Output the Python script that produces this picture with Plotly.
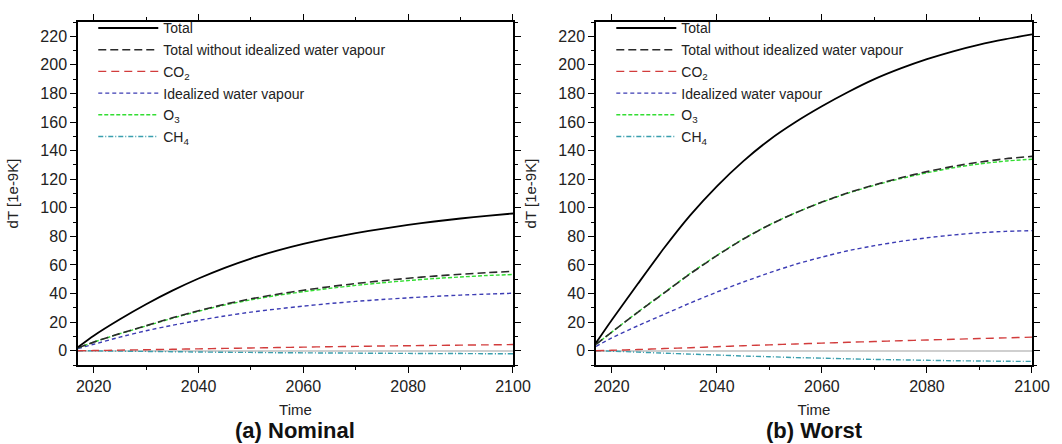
import plotly.graph_objects as go

# ---------------- data ----------------
years = [2017, 2020, 2025, 2030, 2035, 2040, 2045, 2050, 2055, 2060,
         2065, 2070, 2075, 2080, 2085, 2090, 2095, 2100]

# (a) Nominal
nom_total = [2.5, 10.5, 22.0, 32.5, 42.0, 50.5, 58.0, 64.5, 70.0, 74.7,
             78.8, 82.3, 85.3, 88.0, 90.4, 92.5, 94.4, 96.0]
nom_total_no_wv = [2.0, 6.0, 12.0, 17.5, 23.0, 28.0, 32.5, 36.3, 39.5, 42.3,
                   44.8, 47.0, 49.0, 50.7, 52.2, 53.5, 54.6, 55.5]
nom_co2 = [0.0, 0.1, 0.4, 0.7, 1.0, 1.3, 1.6, 1.9, 2.2, 2.5,
           2.8, 3.0, 3.3, 3.5, 3.7, 3.9, 4.1, 4.3]
nom_wv = [1.5, 4.5, 9.5, 14.0, 17.8, 21.2, 24.3, 27.0, 29.2, 31.2,
          33.0, 34.5, 35.8, 37.0, 38.0, 38.9, 39.6, 40.2]
nom_o3 = [2.0, 6.0, 11.9, 17.3, 22.7, 27.6, 32.0, 35.6, 38.7, 41.3,
          43.6, 45.7, 47.5, 49.1, 50.5, 51.6, 52.6, 53.3]
nom_ch4 = [0.0, -0.1, -0.3, -0.5, -0.7, -0.9, -1.1, -1.2, -1.4, -1.5,
           -1.6, -1.7, -1.8, -1.9, -2.0, -2.0, -2.1, -2.1]

# (b) Worst
wor_total = [5.5, 21.5, 47.0, 72.0, 95.0, 115.0, 132.5, 147.5, 160.0, 171.0,
             181.0, 190.0, 197.5, 204.0, 209.5, 214.2, 218.0, 221.3]
wor_total_no_wv = [4.5, 13.0, 27.0, 40.5, 54.0, 66.5, 78.0, 88.0, 96.5, 104.0,
                   110.5, 116.0, 121.0, 125.3, 129.0, 132.0, 134.3, 136.0]
wor_co2 = [0.0, 0.3, 0.8, 1.5, 2.1, 2.8, 3.5, 4.1, 4.7, 5.3,
           5.9, 6.4, 7.0, 7.5, 8.0, 8.5, 9.0, 9.5]
wor_wv = [3.0, 9.0, 17.5, 25.5, 33.5, 41.0, 48.0, 54.5, 60.5, 65.5,
          70.0, 73.5, 76.5, 79.0, 81.0, 82.5, 83.5, 84.0]
wor_o3 = [4.5, 13.0, 27.2, 40.7, 54.3, 66.7, 78.2, 88.1, 96.6, 103.9,
          110.3, 115.7, 120.4, 124.5, 128.0, 130.7, 132.7, 134.0]
wor_ch4 = [0.0, -0.3, -1.0, -1.7, -2.4, -3.0, -3.7, -4.2, -4.8, -5.2,
           -5.7, -6.1, -6.4, -6.7, -7.0, -7.2, -7.4, -7.5]

labels = ["Total", "Total without idealized water vapour", "CO<sub>2</sub>",
          "Idealized water vapour", "O<sub>3</sub>", "CH<sub>4</sub>"]
panel_titles = ["<b>(a) Nominal</b>", "<b>(b) Worst</b>"]
x_ticks = [2020, 2040, 2060, 2080, 2100]
y_ticks = list(range(0, 221, 20))

# ---------------- styles ----------------
styles = {
    0: dict(color="#000000", width=1.8, dash="solid"),
    1: dict(color="#2a2a2a", width=1.6, dash="8px,4px"),
    2: dict(color="#d23c3c", width=1.4, dash="8px,5px"),
    3: dict(color="#3c3cb4", width=1.4, dash="4px,3px"),
    4: dict(color="#33dd33", width=1.4, dash="4px,2px"),
    5: dict(color="#3a9fae", width=1.4, dash="5px,2px,1px,2px"),
}
draw_order = [5, 2, 3, 4, 1, 0]

fig = go.Figure()
panels = [
    ("x", "y", "legend", [nom_total, nom_total_no_wv, nom_co2, nom_wv, nom_o3, nom_ch4]),
    ("x2", "y2", "legend2", [wor_total, wor_total_no_wv, wor_co2, wor_wv, wor_o3, wor_ch4]),
]
for xa, ya, lg, series in panels:
    for k in draw_order:
        fig.add_trace(go.Scatter(
            x=years, y=series[k], mode="lines", name=labels[k],
            line=dict(shape="spline", smoothing=0.6, **styles[k]),
            xaxis=xa, yaxis=ya, legend=lg, legendgroup=f"{lg}_{k}",
            legendrank=k + 1, showlegend=True,
        ))

FONT = "Liberation Sans, Arial, Helvetica, sans-serif"
L, R, T, B = 76, 21, 13, 79
W, H = 1062, 444
pw = W - L - R
ph = H - T - B
dom_a = [0.0, (516 - L) / pw]
dom_b = [(600 - L) / pw, 1.0]

common_x = dict(range=[2017, 2100], tickvals=x_ticks, ticks="outside", ticklen=6,
                tickwidth=1.2, tickcolor="black", showline=True, linecolor="black",
                linewidth=1.5, mirror="ticks", showgrid=False, zeroline=False,
                minor=dict(dtick=10, tick0=2020, ticks="outside", ticklen=3,
                           tickcolor="black", tickwidth=1),
                tickfont=dict(size=16, color="#222", family=FONT),
                title=dict(text="Time", font=dict(size=15, color="#222", family=FONT), standoff=11))
common_y = dict(range=[-10, 230], tickvals=y_ticks, ticks="outside", ticklen=6,
                tickwidth=1.2, tickcolor="black", showline=True, linecolor="black",
                linewidth=1.5, mirror="ticks", showgrid=False,
                zeroline=True, zerolinecolor="#cfcfcf", zerolinewidth=1.5,
                minor=dict(dtick=10, tick0=0, ticks="outside", ticklen=3,
                           tickcolor="black", tickwidth=1),
                tickfont=dict(size=16, color="#222", family=FONT),
                title=dict(text="dT [1e-9K]", font=dict(size=15, color="#222", family=FONT), standoff=18))

leg_common = dict(font=dict(size=14, color="#222", family=FONT), bgcolor="rgba(0,0,0,0)",
                  borderwidth=0, traceorder="grouped", tracegroupgap=0.5, itemwidth=60,
                  yanchor="top", xanchor="left", y=1.028)

fig.update_layout(
    width=W, height=H,
    margin=dict(l=L, r=R, t=T, b=B),
    paper_bgcolor="white", plot_bgcolor="white",
    font=dict(family=FONT, color="#222"),
    xaxis=dict(domain=dom_a, anchor="y", **common_x),
    yaxis=dict(domain=[0, 1], anchor="x", **common_y),
    xaxis2=dict(domain=dom_b, anchor="y2", **common_x),
    yaxis2=dict(domain=[0, 1], anchor="x2", **common_y),
    legend=dict(x=dom_a[0] + 0.016, **leg_common),
    legend2=dict(x=dom_b[0] + 0.016, **leg_common),
    showlegend=True,
    annotations=[
        dict(text=panel_titles[0], x=(dom_a[0] + dom_a[1]) / 2, y=-(432 - (H - B)) / ph,
             xref="paper", yref="paper", xanchor="center", yanchor="middle", showarrow=False,
             font=dict(size=22, color="#111", family=FONT)),
        dict(text=panel_titles[1], x=(dom_b[0] + dom_b[1]) / 2, y=-(432 - (H - B)) / ph,
             xref="paper", yref="paper", xanchor="center", yanchor="middle", showarrow=False,
             font=dict(size=22, color="#111", family=FONT)),
    ],
)

fig.write_html("out.html")
